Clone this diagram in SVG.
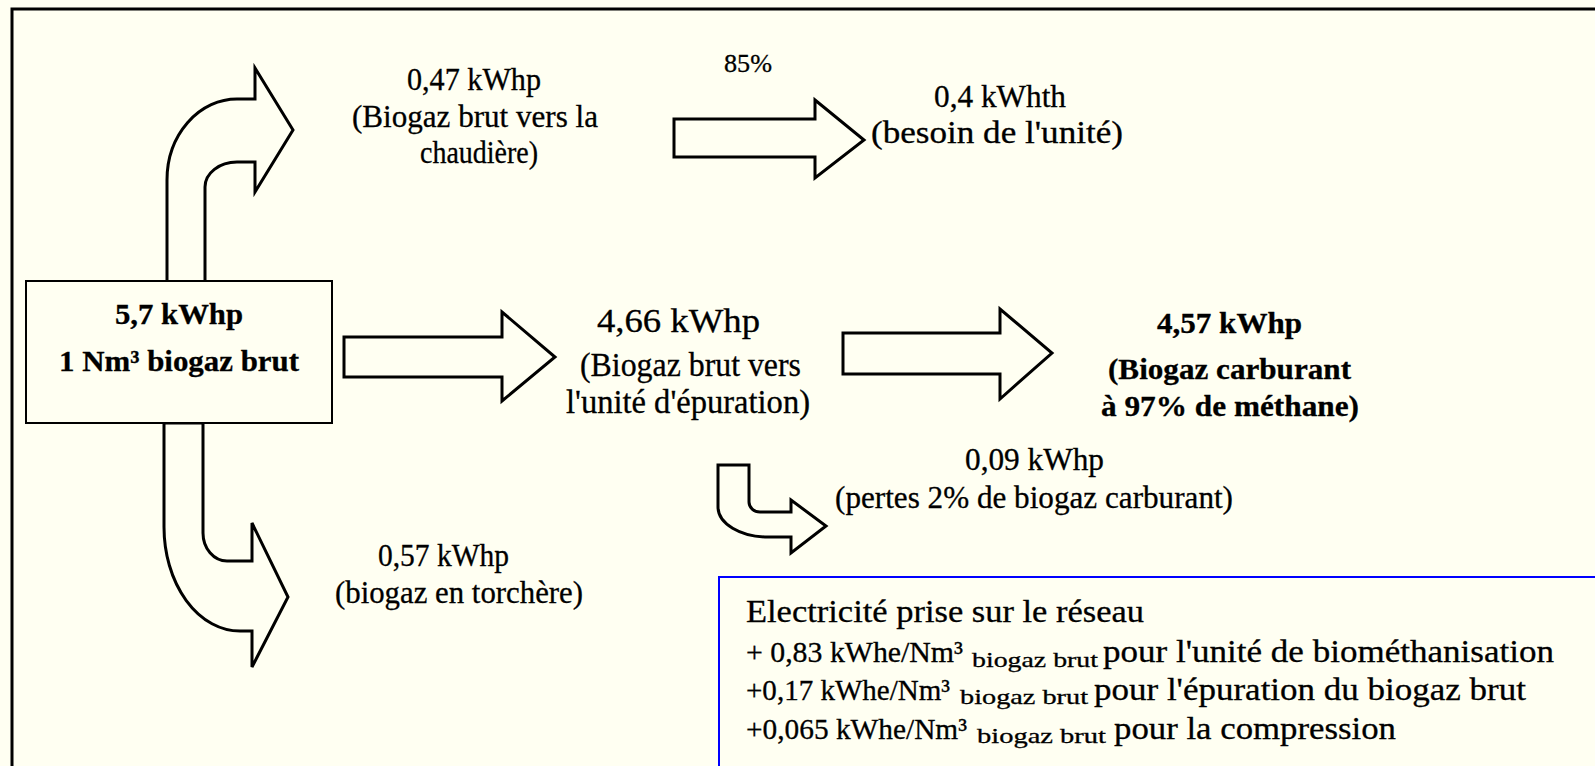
<svg xmlns="http://www.w3.org/2000/svg" width="1595" height="766" viewBox="0 0 1595 766">
<style>
.t{font-family:"Liberation Serif","Times New Roman",serif;font-size:31px;fill:#000;stroke:#000;stroke-width:0.3px}
.b{font-weight:bold}
.arr{fill:#FFFFF2;stroke:#000;stroke-width:3;stroke-linejoin:miter}
.bl{font-size:31px}
.bm{font-size:29.5px}
.sub{font-size:21px}
.m{font-size:33px}
.bb{font-size:30px}
</style>
<rect x="0" y="0" width="1595" height="766" fill="#FFFFF2"/>
<rect x="12" y="9" width="1600" height="800" fill="none" stroke="#000" stroke-width="3"/>

<g id="connectors">
<path class="arr" d="M167,282 L167,180 A70,81 0 0 1 237,99 L255,99 L255,68 L293,130 L255,192 L255,162 L237,162 A32,25 0 0 0 205,187 L205,282 Z"/>
<path class="arr" d="M164,423 L164,527 A76,104 0 0 0 240,631 L252,631 L252,667 L288,597 L252,523 L252,561 L227,561 A24,28 0 0 1 203,533 L203,423 Z"/>
<path class="arr" d="M344,337 L502,337 L502,312 L555,357 L502,401 L502,377 L344,377 Z"/>
<path class="arr" d="M843,333 L1000,333 L1000,309 L1052,353 L1000,399 L1000,374 L843,374 Z"/>
<path class="arr" d="M674,119 L815,119 L815,100 L864,140 L815,178 L815,157 L674,157 Z"/>
<path class="arr" d="M718,465 L749,465 L749,502 A11,10 0 0 0 760,512 L791,512 L791,500 L826,526 L791,553 L791,537 L768,537 A50,30 0 0 1 718,507 Z"/>
</g>

<g id="source">
<rect x="26" y="281" width="306" height="142" fill="#FFFFF2" stroke="#000" stroke-width="2"/>
<text class="t b bb" x="115" y="324" textLength="128" lengthAdjust="spacingAndGlyphs">5,7 kWhp</text>
<text class="t b bb" x="59" y="371" textLength="240" lengthAdjust="spacingAndGlyphs">1 Nm³ biogaz brut</text>
</g>

<g id="chaudiere">
<text class="t" x="407" y="90" textLength="134" lengthAdjust="spacingAndGlyphs">0,47 kWhp</text>
<text class="t" x="352" y="127" textLength="246" lengthAdjust="spacingAndGlyphs">(Biogaz brut vers la</text>
<text class="t" x="420" y="163" textLength="118" lengthAdjust="spacingAndGlyphs">chaudière)</text>
</g>

<g id="rendement">
<text class="t" style="font-size:25px" x="724" y="72" textLength="48" lengthAdjust="spacingAndGlyphs">85%</text>
</g>

<g id="besoin">
<text class="t" x="934" y="107" textLength="132" lengthAdjust="spacingAndGlyphs">0,4 kWhth</text>
<text class="t" x="871" y="143" textLength="252" lengthAdjust="spacingAndGlyphs">(besoin de l'unité)</text>
</g>

<g id="epuration">
<text class="t m" x="597" y="332" textLength="163" lengthAdjust="spacingAndGlyphs">4,66 kWhp</text>
<text class="t m" x="580" y="376" textLength="221" lengthAdjust="spacingAndGlyphs">(Biogaz brut vers</text>
<text class="t m" x="566" y="413" textLength="244" lengthAdjust="spacingAndGlyphs">l'unité d'épuration)</text>
</g>

<g id="carburant">
<text class="t b bb" x="1157" y="333" textLength="145" lengthAdjust="spacingAndGlyphs">4,57 kWhp</text>
<text class="t b bb" x="1108" y="379" textLength="243" lengthAdjust="spacingAndGlyphs">(Biogaz carburant</text>
<text class="t b bb" x="1101" y="416" textLength="258" lengthAdjust="spacingAndGlyphs">à 97% de méthane)</text>
</g>

<g id="pertes">
<text class="t" x="965" y="470" textLength="139" lengthAdjust="spacingAndGlyphs">0,09 kWhp</text>
<text class="t" x="835" y="508" textLength="398" lengthAdjust="spacingAndGlyphs">(pertes 2% de biogaz carburant)</text>
</g>

<g id="torchere">
<text class="t" x="378" y="566" textLength="131" lengthAdjust="spacingAndGlyphs">0,57 kWhp</text>
<text class="t" x="335" y="603" textLength="248" lengthAdjust="spacingAndGlyphs">(biogaz en torchère)</text>
</g>

<g id="electricite">
<rect x="719" y="577" width="900" height="220" fill="#FFFFF2" stroke="#0000FF" stroke-width="2"/>
<text class="t bl" x="746" y="622" textLength="398" lengthAdjust="spacingAndGlyphs">Electricité prise sur le réseau</text>
<text class="t bl" y="662"><tspan class="bm" x="746" textLength="217" lengthAdjust="spacingAndGlyphs">+ 0,83 kWhe/Nm³</tspan><tspan class="sub" x="972" y="667" textLength="126" lengthAdjust="spacingAndGlyphs">biogaz brut</tspan><tspan x="1103" y="662" textLength="451" lengthAdjust="spacingAndGlyphs">pour l'unité de biométhanisation</tspan></text>
<text class="t bl" y="700"><tspan class="bm" x="746" textLength="204" lengthAdjust="spacingAndGlyphs">+0,17 kWhe/Nm³</tspan><tspan class="sub" x="960" y="704" textLength="128" lengthAdjust="spacingAndGlyphs">biogaz brut</tspan><tspan x="1094" y="700" textLength="432" lengthAdjust="spacingAndGlyphs">pour l'épuration du biogaz brut</tspan></text>
<text class="t bl" y="739"><tspan class="bm" x="746" textLength="221" lengthAdjust="spacingAndGlyphs">+0,065 kWhe/Nm³</tspan><tspan class="sub" x="977" y="743" textLength="129" lengthAdjust="spacingAndGlyphs">biogaz brut</tspan><tspan x="1114" y="739" textLength="282" lengthAdjust="spacingAndGlyphs">pour la compression</tspan></text>
</g>
</svg>
